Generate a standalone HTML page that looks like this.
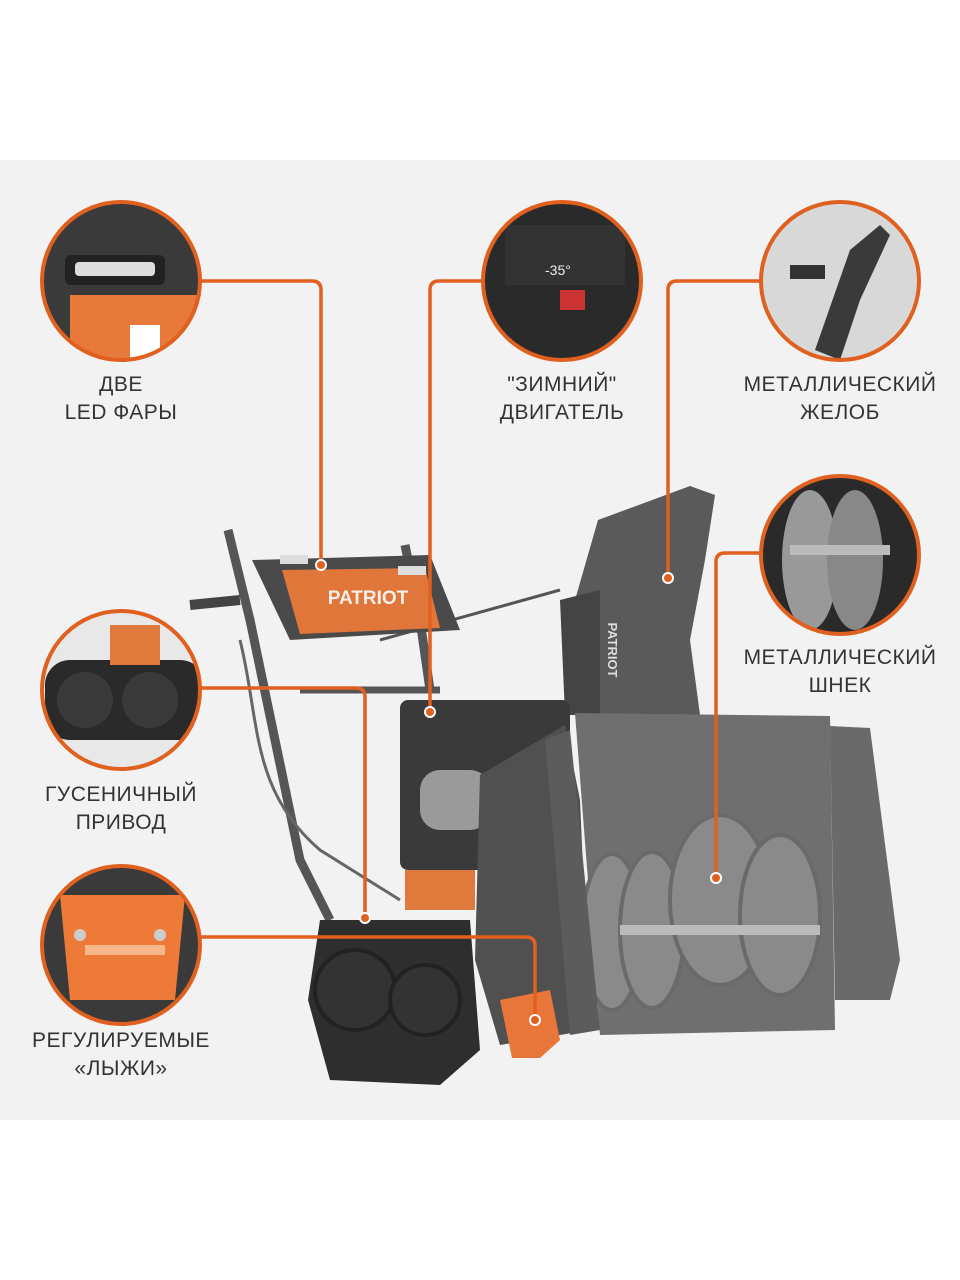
<!DOCTYPE html>
<html><head><meta charset="utf-8"><style>
html,body{margin:0;padding:0;background:#fff;}
.wrap{position:relative;width:960px;height:1280px;overflow:hidden;background:#fff;font-family:"Liberation Sans","DejaVu Sans",sans-serif;}
.bg{position:absolute;left:0;top:160px;width:960px;height:960px;background:#f2f2f2;}
.lbl{position:absolute;width:260px;text-align:center;font-size:21px;line-height:28px;color:#333;letter-spacing:0.5px;}
svg{position:absolute;left:0;top:0;}
</style></head><body><div class="wrap">
<div class="bg"></div>
<svg width="960" height="1280" viewBox="0 0 960 1280">
<defs>
<clipPath id="c1"><circle cx="121" cy="281" r="78"/></clipPath>
<clipPath id="c2"><circle cx="562" cy="281" r="78"/></clipPath>
<clipPath id="c3"><circle cx="840" cy="281" r="78"/></clipPath>
<clipPath id="c4"><circle cx="840" cy="555" r="78"/></clipPath>
<clipPath id="c5"><circle cx="121" cy="690" r="78"/></clipPath>
<clipPath id="c6"><circle cx="121" cy="945" r="78"/></clipPath>
</defs>
<!-- machine -->
<g>
<!-- handles -->
<path d="M228 530 L250 620 L300 860 L330 920" stroke="#555" stroke-width="9" fill="none"/>
<path d="M405 545 L420 620 L430 690" stroke="#555" stroke-width="9" fill="none"/>
<path d="M190 605 L240 600" stroke="#444" stroke-width="10" fill="none"/>
<path d="M300 690 L440 690" stroke="#555" stroke-width="7" fill="none"/>
<path d="M240 640 C260 720 250 790 320 850 L400 900" stroke="#666" stroke-width="3" fill="none"/>
<path d="M380 640 L560 590" stroke="#555" stroke-width="3" fill="none"/>
<!-- control panel -->
<path d="M252 560 L430 555 L460 630 L290 640 Z" fill="#4a4a4a"/>
<path d="M282 570 L425 568 L440 628 L300 634 Z" fill="#e0763a"/>
<text x="368" y="604" font-size="19" font-weight="bold" fill="#f4efe8" text-anchor="middle" font-family="Liberation Sans,sans-serif">PATRIOT</text>
<rect x="280" y="555" width="28" height="9" fill="#ddd"/><rect x="398" y="566" width="28" height="9" fill="#ddd"/>
<!-- chute -->
<path d="M598 520 L690 486 L715 495 L705 560 L690 640 L700 715 L580 715 L575 600 Z" fill="#5a5a5a"/>
<path d="M560 600 L600 590 L600 715 L565 715 Z" fill="#444"/>
<text x="608" y="650" font-size="13" font-weight="bold" fill="#ddd" transform="rotate(90 608 650)" text-anchor="middle">PATRIOT</text>
<!-- engine -->
<rect x="400" y="700" width="170" height="170" rx="8" fill="#3a3a3a"/>
<rect x="420" y="770" width="70" height="60" rx="20" fill="#9a9a9a"/>
<rect x="405" y="870" width="70" height="40" fill="#e07a3c"/>
<!-- back panel -->
<path d="M575 713 L830 716 L835 1030 L600 1035 Z" fill="#6f6f6f"/>
<path d="M830 726 L870 728 L900 960 L890 1000 L835 1000 Z" fill="#6a6a6a"/>
<!-- augers -->
<g fill="#8a8a8a" stroke="#6a6a6a" stroke-width="4">
<ellipse cx="612" cy="932" rx="30" ry="78"/>
<ellipse cx="652" cy="930" rx="32" ry="78"/>
<ellipse cx="720" cy="900" rx="50" ry="85"/>
<ellipse cx="780" cy="915" rx="40" ry="80"/>
</g>
<rect x="620" y="925" width="200" height="10" fill="#bbb"/>
<!-- side plate -->
<path d="M480 775 L565 725 L580 800 L590 1030 L500 1045 L475 960 Z" fill="#505050"/>
<path d="M545 740 L570 730 L600 1030 L570 1035 Z" fill="#5c5c5c"/>
<!-- tracks -->
<path d="M320 920 L470 920 L480 1050 L440 1085 L330 1080 L308 1000 Z" fill="#2e2e2e"/>
<circle cx="355" cy="990" r="40" fill="#333" stroke="#222" stroke-width="4"/>
<circle cx="425" cy="1000" r="35" fill="#333" stroke="#222" stroke-width="4"/>
<!-- skid -->
<path d="M500 1000 L550 990 L560 1040 L540 1058 L512 1058 Z" fill="#e8763a"/>
</g>
<!-- connectors -->
<g stroke="#e0601f" stroke-width="3.5" fill="none" stroke-linejoin="round">
<path d="M199 281 H312 Q321 281 321 290 V565"/>
<path d="M484 281 H439 Q430 281 430 290 V712"/>
<path d="M762 281 H677 Q668 281 668 290 V578"/>
<path d="M762 553 H725 Q716 553 716 562 V878"/>
<path d="M199 688 H356 Q365 688 365 697 V918"/>
<path d="M199 937 H526 Q535 937 535 946 V1020"/>
</g>
<g fill="#e0601f" stroke="#fff" stroke-width="2">
<circle cx="321" cy="565" r="5"/><circle cx="430" cy="712" r="5"/><circle cx="668" cy="578" r="5"/>
<circle cx="716" cy="878" r="5"/><circle cx="365" cy="918" r="5"/><circle cx="535" cy="1020" r="5"/>
</g>
<!-- circles contents -->
<g clip-path="url(#c1)"><rect x="40" y="200" width="165" height="165" fill="#3a3a3a"/><rect x="65" y="255" width="100" height="30" rx="6" fill="#222"/><rect x="75" y="262" width="80" height="14" rx="4" fill="#ddd"/><rect x="70" y="295" width="140" height="80" fill="#e77a3a"/><rect x="130" y="325" width="30" height="40" fill="#fff"/></g>
<g clip-path="url(#c2)"><rect x="480" y="200" width="165" height="165" fill="#2a2a2a"/><rect x="505" y="225" width="120" height="60" fill="#333"/><text x="545" y="275" font-size="14" fill="#eee">-35°</text><rect x="560" y="290" width="25" height="20" fill="#c33"/></g>
<g clip-path="url(#c3)"><rect x="760" y="200" width="165" height="165" fill="#d8d8d8"/><path d="M815 350 L850 250 L880 225 L890 235 L860 300 L840 360 Z" fill="#3a3a3a"/><rect x="790" y="265" width="35" height="14" fill="#333"/></g>
<g clip-path="url(#c4)"><rect x="760" y="475" width="165" height="165" fill="#2a2a2a"/><ellipse cx="810" cy="560" rx="28" ry="70" fill="#999"/><ellipse cx="855" cy="560" rx="28" ry="70" fill="#888"/><rect x="790" y="545" width="100" height="10" fill="#bbb"/></g>
<g clip-path="url(#c5)"><rect x="40" y="610" width="165" height="165" fill="#e8e8e8"/><rect x="45" y="660" width="160" height="80" rx="25" fill="#2a2a2a"/><circle cx="85" cy="700" r="28" fill="#3a3a3a"/><circle cx="150" cy="700" r="28" fill="#3a3a3a"/><rect x="110" y="625" width="50" height="40" fill="#e07a3c"/></g>
<g clip-path="url(#c6)"><rect x="40" y="865" width="165" height="165" fill="#3a3a3a"/><path d="M60 895 L185 895 L175 1000 L70 1000 Z" fill="#ee7a38"/><rect x="85" y="945" width="80" height="10" fill="#f9b58a"/><circle cx="80" cy="935" r="6" fill="#ccc"/><circle cx="160" cy="935" r="6" fill="#ccc"/></g>
<g fill="none" stroke="#e0601f" stroke-width="4">
<circle cx="121" cy="281" r="79"/><circle cx="562" cy="281" r="79"/><circle cx="840" cy="281" r="79"/>
<circle cx="840" cy="555" r="79"/><circle cx="121" cy="690" r="79"/><circle cx="121" cy="945" r="79"/>
</g>
</svg>
<div class="lbl" style="left:-9px;top:371px">ДВЕ<br>LED ФАРЫ</div>
<div class="lbl" style="left:432px;top:371px">"ЗИМНИЙ"<br>ДВИГАТЕЛЬ</div>
<div class="lbl" style="left:710px;top:371px">МЕТАЛЛИЧЕСКИЙ<br>ЖЕЛОБ</div>
<div class="lbl" style="left:710px;top:644px">МЕТАЛЛИЧЕСКИЙ<br>ШНЕК</div>
<div class="lbl" style="left:-9px;top:781px">ГУСЕНИЧНЫЙ<br>ПРИВОД</div>
<div class="lbl" style="left:-9px;top:1027px">РЕГУЛИРУЕМЫЕ<br>«ЛЫЖИ»</div>
</div></body></html>
